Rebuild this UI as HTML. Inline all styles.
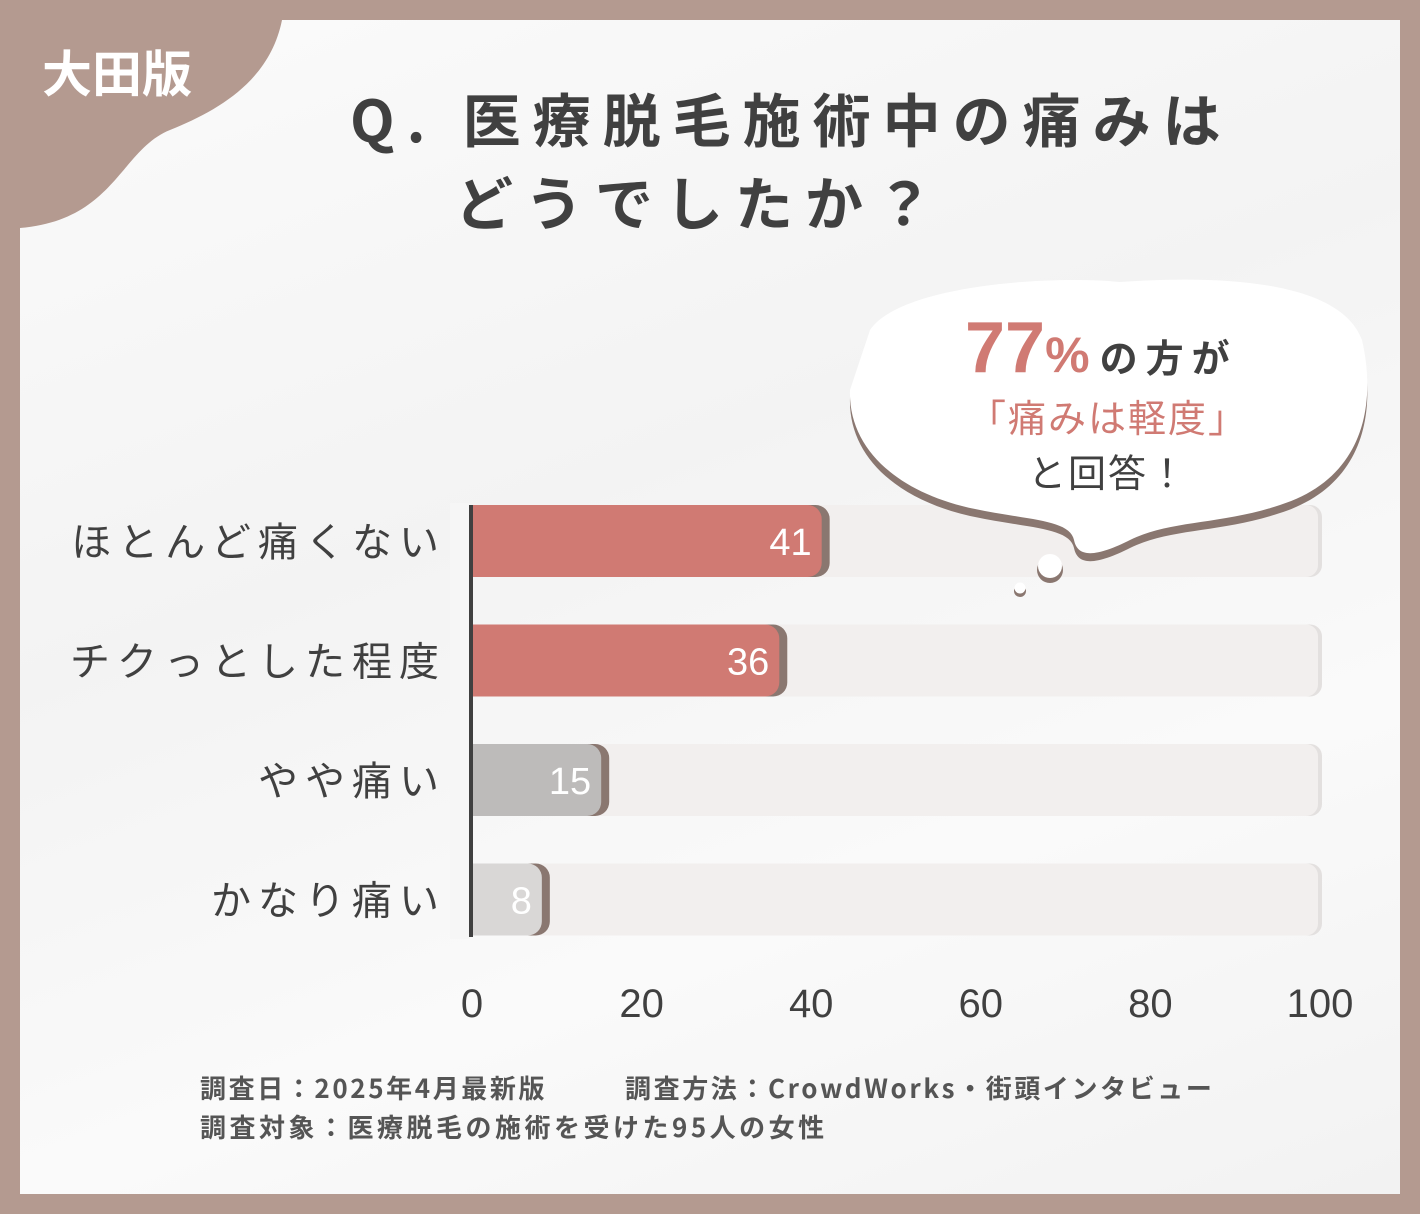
<!DOCTYPE html>
<html><head><meta charset="utf-8"><style>
body{margin:0;width:1420px;height:1214px;background:#b49a90;font-family:"Liberation Sans","Noto Sans CJK JP",sans-serif;overflow:hidden}
#panel{position:absolute;left:20px;top:20px;width:1380px;height:1174px;background:linear-gradient(160deg,#fbfbfb 0%,#f3f3f3 40%,#fafafa 70%,#f2f2f2 100%)}
</style></head><body>
<div id="panel"></div>
<svg width="1420" height="1214" style="position:absolute;left:0;top:0">
<path d="M20,20 L282,20 C270,80 220,110 170,130 C120,150 115,220 20,228 Z" fill="#b49a90"/>
<text x="42" y="92" font-size="50" font-weight="bold" fill="#fff" font-family="Noto Sans CJK JP,sans-serif">大田版</text>
<text x="350" y="142" font-size="58" font-weight="bold" fill="#404040" letter-spacing="12" font-family="Noto Sans CJK JP,sans-serif">Q. 医療脱毛施術中の痛みは</text>
<text x="455" y="225" font-size="58" font-weight="bold" fill="#404040" letter-spacing="12" font-family="Noto Sans CJK JP,sans-serif">どうでしたか？</text>
<g id="chart"></g>
<g>
<path d="M870,330 C900,285 1050,275 1120,282 C1220,275 1340,280 1362,340 C1378,410 1360,480 1280,505 C1220,525 1170,520 1130,540 C1100,555 1078,560 1074,540 C1070,520 1030,520 980,510 C900,495 848,450 850,390 Z" fill="#8a7770" transform="translate(0,8)"/>
<path d="M870,330 C900,285 1050,275 1120,282 C1220,275 1340,280 1362,340 C1378,410 1360,480 1280,505 C1220,525 1170,520 1130,540 C1100,555 1078,560 1074,540 C1070,520 1030,520 980,510 C900,495 848,450 850,390 Z" fill="#fff"/>
<circle cx="1050" cy="570" r="13" fill="#8a7770"/><circle cx="1050" cy="566" r="12" fill="#fff"/>
<circle cx="1020" cy="591" r="6" fill="#8a7770"/><circle cx="1020" cy="588" r="5.5" fill="#fff"/>
</g>
<text x="965" y="372" font-size="72" font-weight="bold" fill="#d07a73">77<tspan font-size="50">%</tspan><tspan font-size="38" fill="#404040" font-family="Noto Sans CJK JP,sans-serif" dx="10" letter-spacing="8">の方が</tspan></text>
<text x="1108" y="432" text-anchor="middle" font-size="38" fill="#d07a73" letter-spacing="2" font-family="Noto Sans CJK JP,sans-serif">「痛みは軽度」</text>
<text x="1108" y="487" text-anchor="middle" font-size="38" fill="#404040" letter-spacing="2" font-family="Noto Sans CJK JP,sans-serif">と回答！</text>
<text x="200" y="1098" font-size="26" font-weight="bold" fill="#555" letter-spacing="2.6" font-family="Noto Sans CJK JP,sans-serif">調査日：2025年4月最新版</text>
<text x="625" y="1098" font-size="26" font-weight="bold" fill="#555" letter-spacing="2.6" font-family="Noto Sans CJK JP,sans-serif">調査方法：CrowdWorks・街頭インタビュー</text>
<text x="200" y="1137" font-size="26" font-weight="bold" fill="#555" letter-spacing="3.5" font-family="Noto Sans CJK JP,sans-serif">調査対象：医療脱毛の施術を受けた95人の女性</text>
</svg>
<script>
const categories=["ほとんど痛くない","チクっとした程度","やや痛い","かなり痛い"];
const values=[41,36,15,8];
const ticks=[0,20,40,60,80,100];
const NS="http://www.w3.org/2000/svg";
const g=document.getElementById('chart');
const x0=472,x1=1320,top0=505,step=119.5,bh=72;
const xs=v=>x0+(x1-x0)*v/100;
const colors=["#d07a73","#d07a73","#bdbbba","#d9d7d6"];
function mk(t,a){const e=document.createElementNS(NS,t);for(const k in a)e.setAttribute(k,a[k]);g.appendChild(e);return e;}
categories.forEach((c,i)=>{
 const y=top0+i*step;
 let e=mk('rect',{x:x0-20,y:y,width:xs(100)-x0+22,height:bh,rx:12,fill:'#e3e0df'});
 
 e=mk('rect',{x:x0-20,y:y,width:xs(100)-x0+18,height:bh,rx:12,fill:'#f2efee'});
 
 e=mk('rect',{x:x0-20,y:y,width:xs(values[i])-x0+30,height:bh,rx:14,fill:'#8a7770'});
 
 e=mk('rect',{x:x0-20,y:y,width:xs(values[i])-x0+22,height:bh,rx:14,fill:colors[i]});
 
 e=mk('text',{x:xs(values[i])-8,y:y+bh/2+14,'text-anchor':'end','font-size':38,fill:'#fff'});
 e.textContent=values[i];
 
 e=mk('text',{x:446,y:y+bh/2+15,'text-anchor':'end','font-size':40,fill:'#404040','letter-spacing':7,'font-family':'Noto Sans CJK JP,sans-serif'});
 e.textContent=categories[i];
 
});
const cover=mk('rect',{x:x0-22,y:top0-2,width:20,height:436,fill:'#f6f6f6'});

const ax=mk('rect',{x:x0-3,y:top0,width:4,height:432,fill:'#404040'});

ticks.forEach(t=>{
 const e=mk('text',{x:xs(t),y:1017,'text-anchor':'middle','font-size':40,fill:'#404040'});
 e.textContent=t;
 
});
</script>
</body></html>
